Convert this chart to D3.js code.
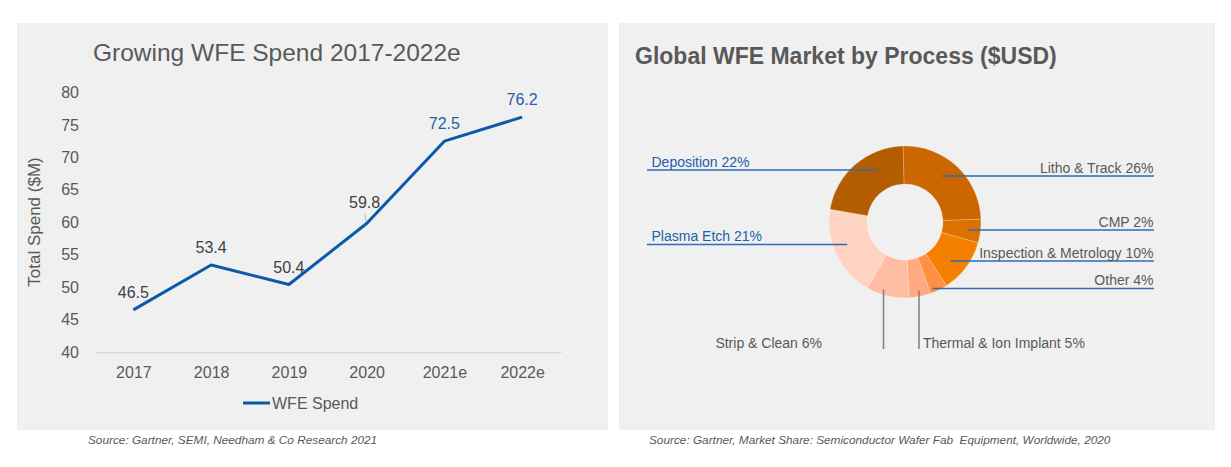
<!DOCTYPE html>
<html>
<head>
<meta charset="utf-8">
<script src="https://cdn.jsdelivr.net/npm/d3@7"></script>
<style>
  body { margin: 0; background: #fff; }
  svg { display: block; font-family: "Liberation Sans", Arial, sans-serif; }
</style>
</head>
<body>
<svg id="chart" width="1231" height="467"></svg>
<script>
// line chart data
const years = ["2017", "2018", "2019", "2020", "2021e", "2022e"];
const wfeSpend = [46.5, 53.4, 50.4, 59.8, 72.5, 76.2];
const estimated = [false, false, false, false, true, true];
const yTicks = [40, 45, 50, 55, 60, 65, 70, 75, 80];

// donut data (slice sizes, label text as printed)
const processNames = ["Litho & Track", "CMP", "Inspection & Metrology", "Other",
                      "Thermal & Ion Implant", "Strip & Clean", "Plasma Etch", "Deposition"];
const processShares = [24.8, 5.0, 11.4, 3.7, 4.6, 9.1, 19.4, 21.9];
const processLabelPct = [26, 2, 10, 4, 5, 6, 21, 22];
const processColors = ["#cc6600", "#de7000", "#f58000", "#ff8f45",
                       "#ffaa82", "#ffbea3", "#ffd3c2", "#b35c00"];

const svg = d3.select("#chart");
const grey = "#595959";
const blue = "#1f5ea8";

// panels
svg.append("rect").attr("x", 17).attr("y", 23).attr("width", 591).attr("height", 407).attr("fill", "#f0f0f0");
svg.append("rect").attr("x", 619).attr("y", 23).attr("width", 596).attr("height", 407).attr("fill", "#f0f0f0");

// ---------- left: line chart ----------
const x = d3.scalePoint().domain(years).range([94.5, 561]).padding(0.5);
const y = d3.scaleLinear().domain([40, 80]).range([352, 92.5]);

svg.append("text").attr("x", 93).attr("y", 61)
    .attr("font-size", 24.5).attr("fill", grey)
    .text("Growing WFE Spend 2017-2022e");

const yAxis = svg.append("g").attr("transform", "translate(94,0)")
    .call(d3.axisLeft(y).tickValues(yTicks).tickSize(0).tickPadding(15));
yAxis.select(".domain").remove();
yAxis.selectAll("text").attr("font-size", 16).attr("fill", grey).attr("font-family", null);

const xAxis = svg.append("g").attr("transform", "translate(0,352)")
    .call(d3.axisBottom(x).tickSize(0).tickSizeOuter(0).tickPadding(15));
xAxis.select(".domain").attr("stroke", "#d9d9d9").attr("stroke-width", 1.5);
xAxis.selectAll("text").attr("font-size", 16).attr("fill", grey).attr("font-family", null);

svg.append("text")
    .attr("transform", "translate(40,222) rotate(-90)")
    .attr("text-anchor", "middle").attr("font-size", 17).attr("fill", grey)
    .text("Total Spend ($M)");

const line = d3.line().x((d, i) => x(years[i])).y(d => y(d));
svg.append("path").datum(wfeSpend)
    .attr("d", line).attr("fill", "none")
    .attr("stroke", "#0b5aa8").attr("stroke-width", 3).attr("stroke-linejoin", "round");

// value labels
svg.selectAll(".val").data(wfeSpend).enter().append("text")
    .attr("class", "val")
    .attr("x", (d, i) => x(years[i]) - (i === 3 ? 2 : 0))
    .attr("y", (d, i) => y(d) - (i === 3 ? 16 : 12))
    .attr("text-anchor", "middle").attr("font-size", 16)
    .attr("fill", (d, i) => estimated[i] ? blue : "#404040")
    .text(d => d);

// little leader under 59.8
svg.append("line")
    .attr("x1", x(years[3]) - 1.5).attr("x2", x(years[3]) - 0.5)
    .attr("y1", y(wfeSpend[3]) - 9).attr("y2", y(wfeSpend[3]) - 2)
    .attr("stroke", "#a6a6a6").attr("stroke-width", 0.75);

// legend
svg.append("line").attr("x1", 243).attr("x2", 270).attr("y1", 403).attr("y2", 403)
    .attr("stroke", "#0b5aa8").attr("stroke-width", 3);
svg.append("text").attr("x", 272).attr("y", 409).attr("font-size", 16).attr("fill", grey).text("WFE Spend");

svg.append("text").attr("x", 88).attr("y", 444)
    .attr("font-size", 11.8).attr("font-style", "italic").attr("fill", grey)
    .text("Source: Gartner, SEMI, Needham & Co Research 2021");

// ---------- right: donut ----------
svg.append("text").attr("x", 635).attr("y", 64)
    .attr("font-size", 23).attr("font-weight", "bold").attr("fill", grey)
    .text("Global WFE Market by Process ($USD)");

const cx = 905, cy = 222;
const start = -1.5 * Math.PI / 180;
const pie = d3.pie().sort(null).startAngle(start).endAngle(start + 2 * Math.PI);
const arc = d3.arc().innerRadius(38).outerRadius(76);

const donut = svg.append("g").attr("transform", `translate(${cx},${cy})`);
donut.selectAll("path").data(pie(processShares)).enter().append("path")
    .attr("d", arc)
    .attr("fill", (d, i) => processColors[i])
    .attr("stroke", "rgba(255,255,255,0.35)").attr("stroke-width", 0.6);

// label layout: side labels sit on an underline reaching into the slice
const sideLayout = [
    { i: 0, side: 1, ly: 176, r: 59 },
    { i: 1, side: 1, ly: 230, r: 64 },
    { i: 2, side: 1, ly: 261, r: 60 },
    { i: 3, side: 1, ly: 288.5, r: 72 },
    { i: 7, side: -1, ly: 170, r: 59 },
    { i: 6, side: -1, ly: 244.5, r: 62 }
];
sideLayout.forEach(l => {
    const inner = cx + l.side * Math.sqrt(l.r * l.r - (l.ly - cy) * (l.ly - cy));
    const outer = l.side > 0 ? 1154 : 647;
    svg.append("line")
        .attr("x1", inner).attr("x2", outer).attr("y1", l.ly).attr("y2", l.ly)
        .attr("stroke", "#2e6db5").attr("stroke-width", 1.5);
    svg.append("text")
        .attr("x", l.side > 0 ? 1153.5 : 651.5).attr("y", l.ly - 3.5)
        .attr("text-anchor", l.side > 0 ? "end" : "start")
        .attr("font-size", 14)
        .attr("fill", l.side > 0 ? grey : blue)
        .text(processNames[l.i] + " " + processLabelPct[l.i] + "%");
});

// bottom labels with vertical leaders
const bottomLayout = [
    { i: 5, lx: 883.5, r: 71, anchor: "end", tx: 822 },
    { i: 4, lx: 919, r: 70, anchor: "start", tx: 923 }
];
bottomLayout.forEach(l => {
    const top = cy + Math.sqrt(l.r * l.r - (l.lx - cx) * (l.lx - cx));
    svg.append("line")
        .attr("x1", l.lx).attr("x2", l.lx).attr("y1", top).attr("y2", 349)
        .attr("stroke", "#7f7f7f").attr("stroke-width", 1.5);
    svg.append("text")
        .attr("x", l.tx).attr("y", 347.5)
        .attr("text-anchor", l.anchor).attr("font-size", 14).attr("fill", grey)
        .text(processNames[l.i] + " " + processLabelPct[l.i] + "%");
});

svg.append("text").attr("x", 649).attr("y", 444)
    .attr("font-size", 11.8).attr("font-style", "italic").attr("fill", grey)
    .attr("xml:space", "preserve")
    .text("Source: Gartner, Market Share: Semiconductor Wafer Fab  Equipment, Worldwide, 2020");
</script>
</body>
</html>
